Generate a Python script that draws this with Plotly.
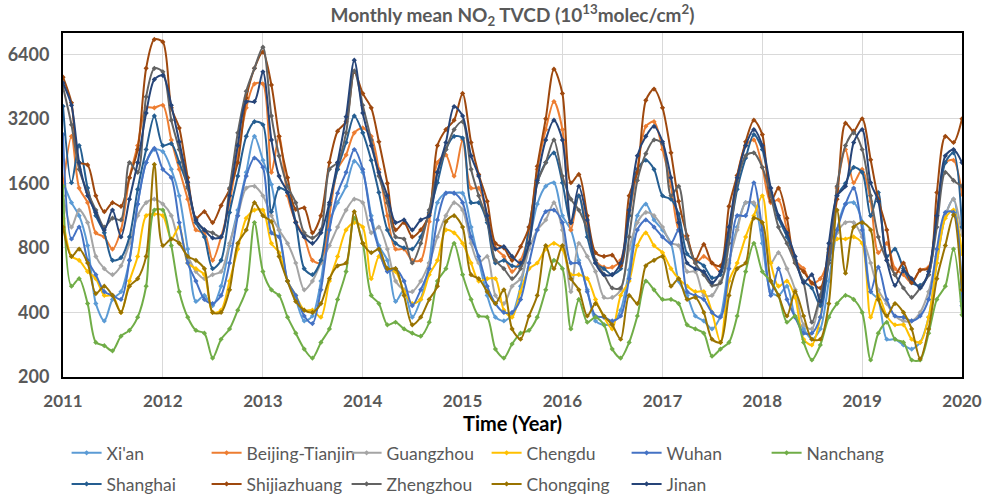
import plotly.graph_objects as go
import pandas as pd

# monthly points Jan 2011 .. Jan 2020
months = pd.date_range("2011-01-01", periods=109, freq="MS")

xian = [1620, 1300, 1130, 820, 440, 365, 460, 500, 700, 1280, 2000, 2300,
        2250, 1860, 1400, 790, 450, 480, 430, 530, 820, 1200, 1800, 2650,
        2050, 1580, 970, 560, 460, 365, 385, 560, 1050, 1300, 1550, 2030,
        1800, 1130, 820, 700, 450, 510, 380, 460, 680, 1300, 1440, 1440,
        1440, 1000, 700, 480, 380, 365, 390, 530, 840, 1280, 1550, 1610,
        1130, 970, 700, 510, 365, 350, 355, 410, 630, 1130, 1280, 1080,
        970, 840, 560, 480, 385, 365, 335, 385, 680, 1000, 1300, 1280,
        840, 500, 480, 530, 380, 335, 300, 335, 560, 970, 1280, 1300,
        1060, 500, 460, 300, 300, 282, 270, 290, 380, 680, 1130, 1350,
        450]
beijing = [1550, 2650, 1520, 1300, 940, 900, 790, 970, 1700, 2400, 3600, 3600,
           3700, 2550, 1860, 1350, 970, 940, 700, 900, 1300, 2200, 3600, 4650,
           4650, 1800, 2650, 1400, 1060, 900, 700, 680, 1130, 1860, 2170, 2750,
           2900, 2650, 1860, 1130, 790, 790, 700, 700, 1060, 2000, 2170, 1730,
           2550, 1520, 1520, 1130, 800, 730, 620, 700, 940, 1860, 2850, 3850,
           2850, 970, 1400, 1000, 700, 650, 650, 700, 1130, 1860, 2950, 3100,
           2300, 1550, 970, 880, 680, 730, 680, 620, 940, 1740, 2400, 2550,
           1900, 1300, 1340, 970, 700, 640, 545, 575, 730, 1520, 2300, 1610,
           1860, 1320, 760, 840, 640, 600, 550, 630, 650, 1130, 2000, 2050,
           1420]
guangzhou = [1400, 1000, 1200, 1050, 730, 640, 600, 660, 840, 1130, 1300, 1350,
             1280, 1130, 840, 730, 620, 575, 600, 620, 840, 1130, 1520, 1550,
             1400, 1130, 970, 840, 680, 510, 560, 680, 820, 1000, 1200, 1350,
             1300, 940, 1000, 790, 560, 510, 500, 560, 680, 900, 1130, 1300,
             1200, 840, 680, 730, 480, 440, 530, 575, 790, 970, 1080, 1300,
             970, 500, 840, 730, 620, 470, 470, 510, 790, 1050, 1170, 1130,
             1000, 840, 820, 620, 620, 480, 480, 560, 700, 970, 1300, 1300,
             970, 680, 760, 640, 510, 350, 335, 480, 700, 940, 1050, 1050,
             900, 680, 510, 440, 385, 365, 365, 400, 500, 730, 1130, 1350,
             920]
chengdu = [1100, 730, 700, 620, 575, 480, 480, 400, 560, 730, 1130, 1150,
           1130, 880, 1000, 680, 640, 600, 400, 410, 560, 790, 1100, 1200,
           1200, 840, 760, 560, 480, 410, 410, 380, 560, 730, 970, 1050,
           1000, 575, 730, 640, 620, 500, 440, 460, 600, 700, 970, 940,
           840, 680, 560, 575, 575, 410, 380, 500, 640, 680, 790, 840,
           790, 600, 600, 575, 460, 380, 335, 480, 560, 820, 940, 820,
           760, 640, 575, 530, 500, 500, 400, 290, 560, 680, 900, 1130,
           1400, 680, 530, 560, 470, 300, 282, 380, 760, 880, 880, 900,
           840, 380, 480, 385, 350, 350, 300, 290, 380, 680, 1100, 1200,
           750]
wuhan = [2700, 880, 1000, 700, 600, 500, 480, 460, 700, 1280, 2000, 2330,
         1860, 1700, 1050, 680, 560, 460, 440, 480, 680, 1130, 1730, 2100,
         1900, 940, 900, 560, 480, 385, 355, 510, 970, 1440, 1800, 2300,
         1860, 1080, 790, 620, 640, 560, 430, 510, 640, 1080, 1440, 1440,
         1300, 900, 730, 530, 440, 400, 400, 460, 680, 970, 1180, 1200,
         1050, 680, 680, 500, 385, 380, 365, 385, 575, 970, 1080, 1000,
         900, 840, 970, 500, 480, 460, 400, 380, 640, 1130, 1130, 1610,
         970, 480, 640, 460, 380, 320, 320, 380, 680, 970, 1280, 1520,
         970, 500, 650, 460, 385, 380, 365, 385, 460, 790, 1170, 1170,
         430]
nanchang = [1550, 530, 575, 440, 290, 280, 265, 310, 330, 380, 530, 1200,
            1200, 820, 500, 380, 330, 320, 245, 300, 335, 410, 510, 1050,
            620, 510, 480, 380, 320, 270, 245, 290, 335, 460, 620, 1100,
            840, 480, 440, 350, 360, 335, 320, 310, 360, 560, 640, 840,
            600, 460, 385, 380, 270, 245, 285, 320, 330, 380, 510, 700,
            640, 335, 460, 360, 380, 350, 270, 245, 290, 385, 560, 510,
            460, 460, 440, 350, 335, 320, 250, 270, 290, 385, 620, 840,
            620, 560, 480, 360, 385, 290, 240, 282, 380, 440, 480, 460,
            400, 240, 320, 360, 300, 290, 240, 240, 320, 460, 530, 790,
            390]
shanghai = [3660, 1610, 2400, 1520, 1130, 940, 700, 720, 900, 1500, 2300, 3300,
            2400, 2450, 2000, 1550, 1050, 900, 640, 700, 1170, 1730, 2650, 3100,
            3000, 1180, 1520, 1450, 1050, 640, 600, 700, 1270, 1860, 2480, 3300,
            2750, 2050, 1450, 970, 840, 800, 790, 900, 1170, 1610, 2300, 2650,
            2600, 1300, 1300, 1050, 680, 700, 660, 660, 1000, 1610, 2000, 2220,
            1610, 1050, 1400, 900, 680, 640, 600, 640, 1130, 1860, 2050, 1860,
            1400, 1350, 1150, 750, 700, 660, 580, 600, 900, 1500, 2100, 2700,
            2300, 1450, 1100, 900, 700, 560, 520, 430, 700, 1400, 1600, 1900,
            1800, 1130, 1450, 730, 790, 640, 550, 535, 600, 1130, 2000, 2220,
            1000]
shijiazhuang = [5000, 3800, 2000, 1950, 1400, 1180, 1300, 1250, 1700, 2300, 5500, 7500,
                7300, 3600, 2900, 1700, 1100, 1180, 1050, 1260, 1500, 2000, 4000, 5500,
                6550, 4600, 2650, 1700, 1210, 1230, 940, 1130, 2000, 2800, 3100, 5300,
                4200, 3600, 2500, 1600, 970, 1050, 900, 970, 1150, 2400, 2850, 3150,
                4200, 2480, 1760, 1320, 840, 800, 700, 810, 1000, 1920, 3200, 5450,
                4200, 1610, 1760, 1130, 760, 730, 740, 660, 1400, 1800, 3900, 4400,
                3600, 2220, 1320, 910, 700, 830, 680, 660, 1250, 1740, 2500, 3150,
                2700, 1320, 1520, 1100, 680, 620, 550, 520, 790, 1350, 3050, 2800,
                3200, 2060, 1350, 970, 600, 680, 550, 630, 640, 1450, 2650, 2480,
                3200]
zhengzhou = [4500, 3000, 1860, 1450, 1200, 1000, 1100, 1080, 2000, 1800, 4050, 5500,
             5300, 3150, 2300, 1520, 1080, 970, 940, 900, 1520, 2750, 4300, 5500,
             6900, 3300, 2150, 1550, 1300, 940, 890, 970, 1860, 2000, 2750, 5350,
             3700, 2550, 1730, 1300, 900, 880, 680, 840, 1200, 1800, 2300, 2850,
             3100, 1860, 1400, 1080, 700, 640, 575, 640, 840, 1610, 2000, 2550,
             1730, 1350, 1200, 970, 700, 600, 520, 520, 900, 1650, 2200, 2550,
             2450, 1400, 1550, 880, 680, 600, 535, 550, 840, 1610, 2150, 2220,
             1900, 1400, 1000, 840, 680, 550, 360, 480, 680, 1550, 2400, 2750,
             2300, 1400, 900, 700, 600, 520, 470, 520, 600, 1000, 1800, 1650,
             1550]
chongqing = [1000, 730, 790, 680, 490, 530, 480, 400, 530, 575, 730, 1960,
             820, 880, 840, 730, 700, 640, 400, 400, 510, 840, 970, 1300,
             1130, 1060, 730, 560, 450, 410, 400, 440, 575, 660, 680, 1180,
             840, 760, 790, 640, 640, 480, 350, 380, 460, 530, 1060, 1130,
             1000, 600, 575, 500, 440, 510, 335, 300, 385, 480, 820, 640,
             820, 575, 510, 385, 440, 385, 350, 300, 480, 440, 660, 700,
             730, 530, 575, 460, 470, 400, 300, 290, 480, 640, 680, 1100,
             1050, 560, 480, 385, 500, 385, 300, 300, 440, 1200, 610, 1000,
             1050, 970, 460, 385, 440, 400, 335, 243, 335, 575, 820, 1140,
             510]
jinan = [4700, 3700, 2000, 1400, 1170, 970, 1200, 900, 1350, 2000, 3400, 4880,
         5100, 3700, 2500, 1620, 1080, 970, 890, 900, 1400, 2400, 3840, 3850,
         5300, 2550, 1730, 1450, 1050, 900, 840, 940, 1300, 2000, 3270, 6000,
         3400, 2400, 1800, 1400, 1050, 1080, 970, 1080, 1130, 1800, 2480, 3650,
         3300, 2150, 1730, 1130, 790, 810, 730, 680, 840, 1650, 2550, 3150,
         2550, 1050, 1550, 1080, 680, 600, 600, 680, 1200, 2150, 2650, 2950,
         2500, 1700, 1050, 680, 640, 620, 550, 620, 1000, 1700, 2400, 2850,
         2400, 1520, 1130, 940, 730, 550, 600, 450, 840, 1400, 1550, 2480,
         2850, 1610, 1320, 700, 535, 625, 575, 520, 620, 1130, 2150, 2300,
         2000]

names = ["Xi'an", "Beijing-Tianjin", "Guangzhou", "Chengdu", "Wuhan", "Nanchang",
         "Shanghai", "Shijiazhuang", "Zhengzhou", "Chongqing", "Jinan"]
series = [xian, beijing, guangzhou, chengdu, wuhan, nanchang,
          shanghai, shijiazhuang, zhengzhou, chongqing, jinan]
colors = ["#5B9BD5", "#ED7D31", "#A5A5A5", "#FFC000", "#4472C4", "#70AD47",
          "#255E91", "#9E480E", "#636363", "#997300", "#264478"]

year_ticks = [str(y) for y in range(2011, 2021)]
y_ticks = [200, 400, 800, 1600, 3200, 6400]

fig = go.Figure()
for i in range(len(names)):
    fig.add_trace(go.Scatter(
        x=months, y=series[i], name=names[i],
        mode="lines+markers",
        line=dict(color=colors[i], width=2, shape="spline", smoothing=0.8),
        marker=dict(symbol="diamond", size=4, color=colors[i]),
        legend="legend" if i < 6 else "legend2",
    ))

gray = "#595959"
leg = dict(orientation="h", x=0.004, xanchor="left", yref="container", yanchor="middle",
           entrywidth=95, entrywidthmode="pixels",
           font=dict(size=17.5, color=gray), bgcolor="rgba(0,0,0,0)")
fig.update_layout(
    width=988, height=498,
    margin=dict(l=63, r=26, t=33, b=121, autoexpand=False),
    paper_bgcolor="white", plot_bgcolor="white",
    font=dict(family="Lato", color=gray),
    title=dict(text="<b>Monthly mean NO<sub>2</sub> TVCD (10<sup>13</sup>molec/cm<sup>2</sup>)</b>",
               x=0.5, xref="paper", xanchor="center", y=0.97, yanchor="middle",
               font=dict(size=19, color=gray)),
    legend=dict(leg, y=0.0904),
    legend2=dict(leg, y=0.0281),
)
fig.update_xaxes(
    type="date", range=["2011-01-01", "2020-01-01"],
    tickvals=[y + "-01-01" for y in year_ticks],
    ticktext=["<b>%s</b>" % y for y in year_ticks],
    tickfont=dict(size=17, color=gray), ticklabelstandoff=8,
    title=dict(text="<b>Time (Year)</b>", font=dict(size=20, color="black"), standoff=2),
    showgrid=True, gridcolor="#D9D9D9", gridwidth=1,
    showline=True, linecolor="black", linewidth=2, mirror=True,
    ticks="", zeroline=False, automargin=False,
)
fig.update_yaxes(
    type="log", range=[2.301, 3.905],
    tickvals=y_ticks, ticktext=["<b>%d</b>" % v for v in y_ticks],
    tickfont=dict(size=18, color=gray),
    showgrid=True, gridcolor="#D9D9D9", gridwidth=1,
    showline=True, linecolor="black", linewidth=2, mirror=True,
    ticks="", ticklabelstandoff=8, zeroline=False, automargin=False,
)

# page body has a default 8px margin; drop it so the figure sits at the corner
fig.write_html("out.html", config={"displayModeBar": False},
               post_script="document.body.style.margin='0';")
